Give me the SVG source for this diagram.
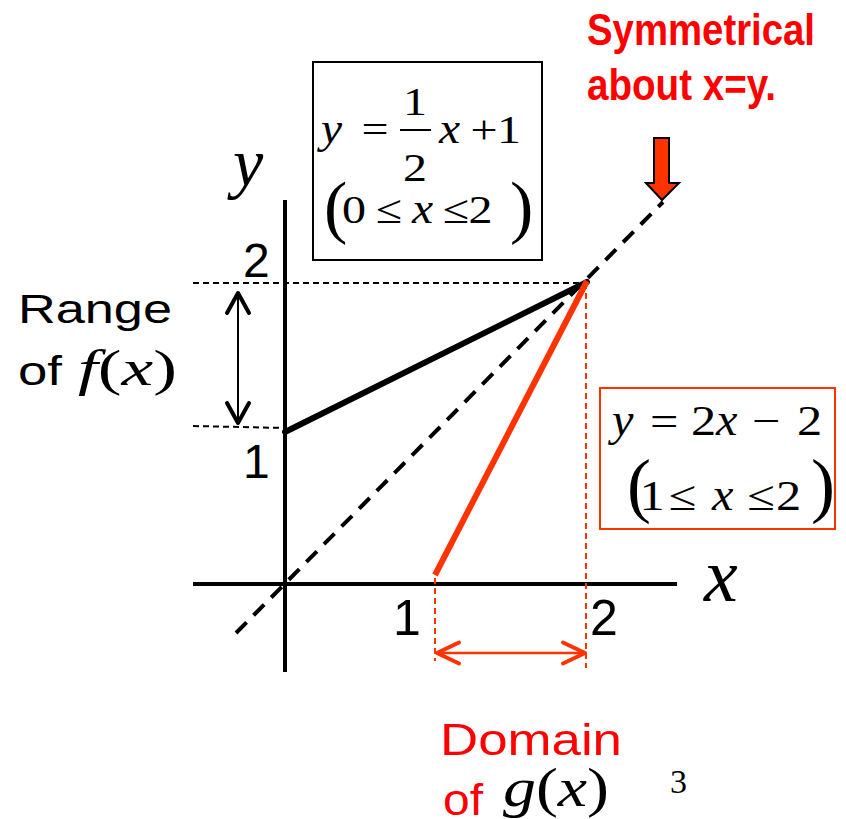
<svg xmlns="http://www.w3.org/2000/svg" width="846" height="819" viewBox="0 0 846 819">
<defs>
<style>
.sans{font-family:"Liberation Sans",Arial,sans-serif;}
.serif{font-family:"Liberation Serif","Times New Roman",serif;}
.it{font-style:italic;}
.red{fill:#ff0000;}
.m1{font-family:"Liberation Serif","Times New Roman",serif;font-size:40px;}
.i1{font-family:"Liberation Serif","Times New Roman",serif;font-size:44px;font-style:italic;}
.m2{font-family:"Liberation Serif","Times New Roman",serif;font-size:42px;}
.i2{font-family:"Liberation Serif","Times New Roman",serif;font-size:46px;font-style:italic;}
.axis{stroke:#000;stroke-width:4;fill:none;}
.dash{stroke:#000;stroke-width:2;stroke-dasharray:6 4;fill:none;}
.rdash{stroke:#ff3300;stroke-width:2;stroke-dasharray:6 4;fill:none;}
</style>
<marker id="hb" markerUnits="userSpaceOnUse" markerWidth="30" markerHeight="30" viewBox="-26 -15 30 30" refX="0" refY="0" orient="auto-start-reverse">
<path d="M -20 -11 L 0 0 L -20 11" fill="none" stroke="#000" stroke-width="4" stroke-linecap="round" stroke-linejoin="round"/>
</marker>
<marker id="hr" markerUnits="userSpaceOnUse" markerWidth="30" markerHeight="30" viewBox="-26 -15 30 30" refX="0" refY="0" orient="auto-start-reverse">
<path d="M -22 -10.5 L 0 0 L -22 10.5" fill="none" stroke="#ff3300" stroke-width="4" stroke-linecap="round" stroke-linejoin="round"/>
</marker>
</defs>
<rect width="846" height="819" fill="#fff"/>

<g id="connectors">
<line class="dash" x1="193" y1="283" x2="587" y2="283"/>
<line class="dash" x1="193" y1="426" x2="285" y2="428"/>
<line x1="236" y1="633" x2="663" y2="202" stroke="#000" stroke-width="4" stroke-dasharray="15 10"/>
<line class="axis" x1="193" y1="584" x2="677" y2="584"/>
<line class="axis" x1="285" y1="200" x2="285" y2="672"/>
<line class="rdash" x1="435" y1="578" x2="435" y2="661"/>
<line class="rdash" x1="586" y1="283" x2="586" y2="668"/>
<line x1="285" y1="432" x2="587" y2="282" stroke="#000" stroke-width="6" stroke-linecap="round"/>
<line x1="435" y1="575" x2="587" y2="281" stroke="#ff3300" stroke-width="6"/>
<line x1="238" y1="293" x2="238" y2="423" stroke="#000" stroke-width="2" marker-start="url(#hb)" marker-end="url(#hb)"/>
<line x1="437" y1="653" x2="585" y2="653" stroke="#ff3300" stroke-width="2.5" marker-start="url(#hr)" marker-end="url(#hr)"/>
<polygon points="654,138 669,138 669,183 679,183 662,200 646,183 654,183" fill="#ff3300" stroke="#000" stroke-width="2"/>
</g>

<g id="axis-labels">
<text class="serif it" x="233" y="186" font-size="68">y</text>
<text class="serif it" x="704" y="601" font-size="76">x</text>
<text class="sans" x="243" y="277" font-size="48">2</text>
<text class="sans" x="243" y="478" font-size="48">1</text>
<text class="sans" x="393" y="635" font-size="50">1</text>
<text class="sans" x="590" y="635" font-size="50">2</text>
</g>

<g id="symmetry-note">
<text class="sans red" x="587" y="45" font-size="44" font-weight="bold" textLength="228" lengthAdjust="spacingAndGlyphs">Symmetrical</text>
<text class="sans red" x="587" y="100" font-size="44" font-weight="bold" textLength="189" lengthAdjust="spacingAndGlyphs">about x=y.</text>
</g>

<g id="f-box">
<rect x="313" y="62" width="229" height="198" fill="none" stroke="#000" stroke-width="2"/>
<text class="i1" transform="translate(321,143) scale(1.08,1)">y</text>
<text class="m1" transform="translate(361.5,143) scale(1.2,1)">=</text>
<text class="m1" text-anchor="middle" transform="translate(415,115) scale(1.2,1)">1</text>
<line x1="400" y1="130" x2="431" y2="130" stroke="#000" stroke-width="2"/>
<text class="m1" text-anchor="middle" transform="translate(415,181) scale(1.2,1)">2</text>
<text class="i1" transform="translate(439,143) scale(1.08,1)">x</text>
<text class="m1" transform="translate(470.5,143) scale(1.2,1)">+</text>
<text class="m1" transform="translate(497,143) scale(1.2,1)">1</text>
<text class="serif" x="324" y="230" font-size="70">(</text>
<text class="m1" transform="translate(342,223) scale(1.2,1)">0</text>
<text class="m1" transform="translate(376,223) scale(1.2,1)">≤</text>
<text class="i1" transform="translate(412,223) scale(1.08,1)">x</text>
<text class="m1" transform="translate(443,223) scale(1.2,1)">≤</text>
<text class="m1" transform="translate(468.5,223) scale(1.2,1)">2</text>
<text class="serif" x="510" y="230" font-size="70">)</text>
</g>

<g id="g-box">
<rect x="600" y="388" width="235" height="141" fill="none" stroke="#ff3300" stroke-width="2"/>
<text class="i2" transform="translate(612,435) scale(1.05,1)">y</text>
<text class="m2" transform="translate(650,435) scale(1.2,1)">=</text>
<text class="m2" transform="translate(691,435) scale(1.2,1)">2</text>
<text class="i2" transform="translate(716,435) scale(1.05,1)">x</text>
<text class="m2" transform="translate(752,435) scale(1.2,1)">−</text>
<text class="m2" transform="translate(797,435) scale(1.2,1)">2</text>
<text class="serif" x="627" y="509" font-size="72">(</text>
<text class="m2" transform="translate(639.5,510) scale(1.2,1)">1</text>
<text class="m2" transform="translate(668.5,510) scale(1.2,1)">≤</text>
<text class="i2" transform="translate(712,510) scale(1.05,1)">x</text>
<text class="m2" transform="translate(747,510) scale(1.2,1)">≤</text>
<text class="m2" transform="translate(776,510) scale(1.2,1)">2</text>
<text class="serif" x="811" y="509" font-size="72">)</text>
</g>

<g id="range-label">
<text class="sans" x="18" y="323" font-size="40" textLength="154" lengthAdjust="spacingAndGlyphs">Range</text>
<text class="sans" x="18" y="385" font-size="40" textLength="44" lengthAdjust="spacingAndGlyphs">of</text>
<text class="serif" x="78" y="385" font-size="50" textLength="99" lengthAdjust="spacingAndGlyphs"><tspan class="it">f</tspan>(<tspan class="it">x</tspan>)</text>
</g>

<g id="domain-label">
<text class="sans red" x="440" y="755" font-size="44" textLength="182" lengthAdjust="spacingAndGlyphs">Domain</text>
<text class="sans red" x="443" y="815" font-size="44" textLength="40" lengthAdjust="spacingAndGlyphs">of</text>
<text class="serif" x="503" y="806" font-size="54" textLength="106" lengthAdjust="spacingAndGlyphs"><tspan class="it">g</tspan>(<tspan class="it">x</tspan>)</text>
</g>

<g id="page-number">
<text class="serif" x="670" y="793" font-size="34">3</text>
</g>
</svg>
